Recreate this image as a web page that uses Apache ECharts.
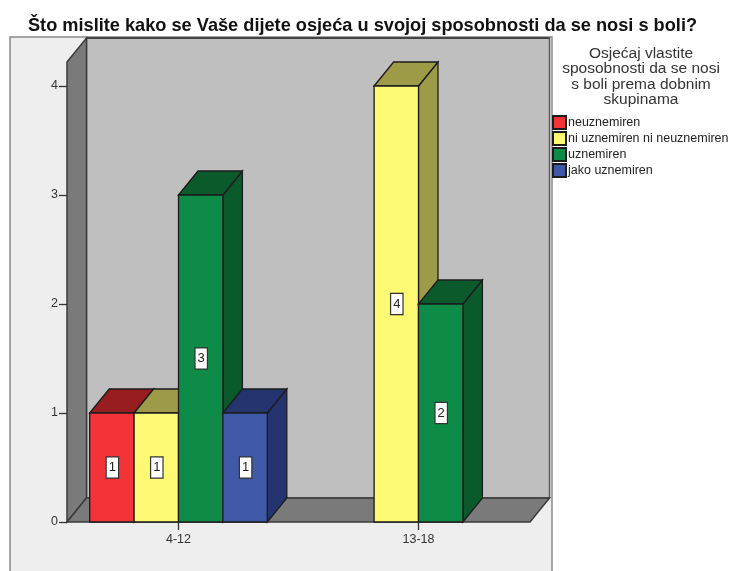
<!DOCTYPE html>
<html><head><meta charset="utf-8">
<style>html,body{margin:0;padding:0;background:#fff}#c{width:729px;height:571px}</style>
<script src="https://cdn.jsdelivr.net/npm/echarts@6/dist/echarts.min.js"></script>
</head><body><div id="c"></div>
<script>
const categories = ['4-12', '13-18'];
const seriesNames = ['neuznemiren', 'ni uznemiren ni neuznemiren', 'uznemiren', 'jako uznemiren'];
const neuznemiren = [1, 0];
const niUznemiren = [1, 4];
const uznemiren = [3, 2];
const jakoUznemiren = [1, 0];
const seriesValues = [neuznemiren, niUznemiren, uznemiren, jakoUznemiren];
const frontColors = ['#f43339', '#fdf973', '#0e8c47', '#3f59a8'];
const darkColors = ['#971d21', '#9d9b48', '#0a5a2c', '#24346e'];
const chartTitle = 'Što mislite kako se Vaše dijete osjeća u svojoj sposobnosti da se nosi s boli?';
const legendTitle = 'Osjećaj vlastite\nsposobnosti da se nosi\ns boli prema dobnim\nskupinama';

const DX = 19.5, DY = 24, BAR = 0.185, LINE = '#1c1c1c';
const chart = echarts.init(document.getElementById('c'), null, {renderer: 'canvas'});

function poly(points, fill, stroke, lw) {
  return {type: 'polygon', shape: {points}, style: {fill, stroke: stroke || LINE, lineWidth: lw || 1.3}};
}

function renderWalls(params, api) {
  const p0 = api.coord([0, 0]), p4 = api.coord([0, 4]);
  const band = api.size([1, 0])[0];
  const y0 = p0[1], yTop = p4[1] - 24;
  const x0 = p0[0] - band * 0.4646, x1 = p0[0] + band * 1.4646;
  const wall = '#bfbfbf', side = '#7a7a7a', edge = '#3a3a3a';
  return {type: 'group', children: [
    {type: 'rect', shape: {x: 10, y: 37, width: 542, height: 540},
      style: {fill: '#eeeeee', stroke: '#8a8a8a', lineWidth: 1.5}},
    poly([[x0 + DX, yTop - DY], [x1 + DX, yTop - DY], [x1 + DX, y0 - DY], [x0 + DX, y0 - DY]], wall, '#5a5a5a', 1.5),
    {type: 'line', shape: {x1: x0 + DX, y1: yTop - DY, x2: x1 + DX, y2: yTop - DY}, style: {stroke: '#444', lineWidth: 2}},
    poly([[x0, yTop], [x0 + DX, yTop - DY], [x0 + DX, y0 - DY], [x0, y0]], side, edge, 1.5),
    poly([[x0, y0], [x0 + DX, y0 - DY], [x1 + DX, y0 - DY], [x1, y0]], side, edge, 1.5)
  ]};
}

function makeRender(si) {
  return function (params, api) {
    const v = api.value(1);
    if (!v) return {type: 'group', children: []};
    const w = api.size([1, 0])[0] * BAR;
    const c = api.coord([api.value(0), 0]);
    const t = api.coord([api.value(0), v]);
    const l = c[0] + (si - 2) * w, r = l + w, b = c[1], h = t[1];
    const mx = (l + r) / 2, my = (b + h) / 2;
    return {type: 'group', children: [
      poly([[r, b], [r + DX, b - DY], [r + DX, h - DY], [r, h]], darkColors[si]),
      poly([[l, h], [l + DX, h - DY], [r + DX, h - DY], [r, h]], darkColors[si]),
      poly([[l, b], [r, b], [r, h], [l, h]], frontColors[si]),
      {type: 'text', style: {
        text: String(v), x: mx + 0.5, y: my, align: 'center', verticalAlign: 'middle',
        fill: '#222', font: '13px "Liberation Sans", Arial, sans-serif',
        backgroundColor: '#fff', borderColor: '#333', borderWidth: 1.2, padding: [4, 2, 3, 2]
      }}
    ]};
  };
}

const series = [{
  type: 'custom', name: 'walls', silent: true, z: 1, renderItem: renderWalls,
  data: [[0, 0]], encode: {x: 0, y: 1}
}];
seriesNames.forEach((name, si) => {
  series.push({
    type: 'custom', name, z: 2 + si, renderItem: makeRender(si),
    itemStyle: {color: frontColors[si], borderColor: LINE, borderWidth: 1},
    encode: {x: 0, y: 1},
    data: seriesValues[si].map((v, i) => [i, v])
  });
});

chart.setOption({
  animation: false,
  backgroundColor: '#fff',
  title: [
    {text: chartTitle, left: 357.5, top: 12, textAlign: 'center',
      textStyle: {fontFamily: 'Liberation Sans', fontWeight: 'bold', fontSize: 18.2, color: '#111'}},
    {text: legendTitle, left: 636, top: 41, textAlign: 'center',
      textStyle: {fontFamily: 'Liberation Sans', fontWeight: 'normal', fontSize: 15.5, lineHeight: 15.4, color: '#333'}}
  ],
  legend: {
    data: seriesNames, orient: 'vertical', left: 552, top: 115, padding: 0,
    icon: 'rect', itemWidth: 13, itemHeight: 13, itemGap: 1, selectedMode: false,
    textStyle: {fontFamily: 'Liberation Sans', fontSize: 12.5, color: '#222', padding: [0, 0, 0, -3]}
  },
  grid: {left: 58.5, width: 480, top: 86, height: 436},
  xAxis: {
    type: 'category', data: categories, z: 20,
    axisLine: {show: false},
    axisTick: {show: true, alignWithLabel: true, length: 8, lineStyle: {color: '#333', width: 1.3}},
    axisLabel: {margin: 11, fontFamily: 'Liberation Sans', fontSize: 12.5, color: '#333'},
    splitLine: {show: false}
  },
  yAxis: {
    type: 'value', min: 0, max: 4, interval: 1, offset: -8.5, z: 20,
    axisLine: {show: false},
    axisTick: {show: true, length: 8, lineStyle: {color: '#333', width: 1.3}},
    axisLabel: {margin: 9, fontFamily: 'Liberation Sans', fontSize: 12.5, color: '#333'},
    splitLine: {show: false}
  },
  series
});
</script></body></html>
